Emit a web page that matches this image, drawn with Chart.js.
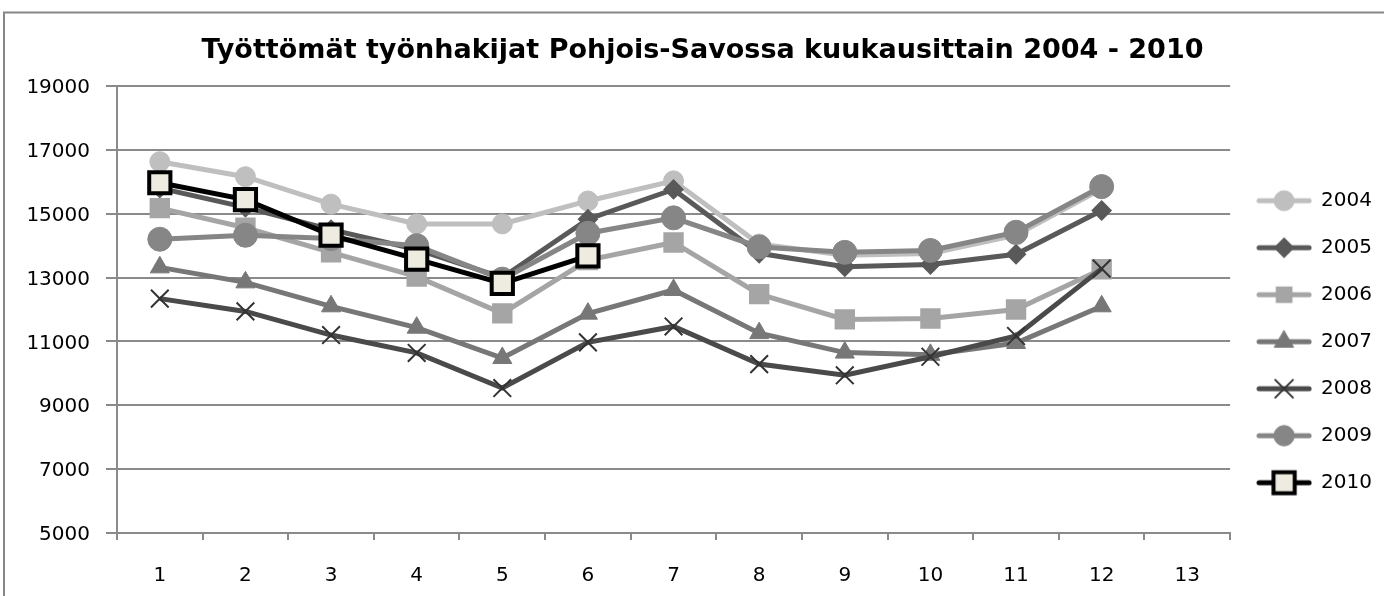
<!DOCTYPE html>
<html><head><meta charset="utf-8">
<script src="https://cdn.jsdelivr.net/npm/chart.js@4/dist/chart.umd.min.js"></script>
<style>html,body{margin:0;padding:0;background:#fff;overflow:hidden}</style>
</head><body>
<canvas id="c" width="1384" height="596"></canvas>
<script>
// ---- data ----
const months = ['1','2','3','4','5','6','7','8','9','10','11','12','13'];
const seriesNames = ['2004','2005','2006','2007','2008','2009','2010'];
const y2004 = [16630,16160,15300,14680,14680,15400,16030,14050,13700,13750,14330,15780];
const y2005 = [15800,15200,14500,13880,13000,14830,15760,13760,13340,13410,13730,15100];
const y2006 = [15175,14560,13790,13030,11880,13550,14100,12480,11690,11720,12000,13260];
const y2007 = [13320,12850,12100,11430,10480,11870,12610,11260,10650,10580,10950,12100];
const y2008 = [12340,11940,11200,10640,9540,10970,11470,10290,9940,10520,11170,13280];
const y2009 = [14200,14325,14220,14000,12950,14390,14870,13960,13790,13850,14420,15850];
const y2010 = [15970,15440,14330,13580,12820,13680];
const yTicks = [5000,7000,9000,11000,13000,15000,17000,19000];

// ---- styles ----
const styles = [
  {data:y2004, color:'#bfbfbf', fill:'#bfbfbf', ps:'circle',   r:10,  bw:1},
  {data:y2005, color:'#595959', fill:'#595959', ps:'rectRot',  r:9,   bw:2},
  {data:y2006, color:'#a5a5a5', fill:'#a5a5a5', ps:'rect',     r:13,  bw:2},
  {data:y2007, color:'#777777', fill:'#777777', ps:'triangle', r:11,  bw:1},
  {data:y2008, color:'#4a4a4a', fill:'#4a4a4a', ps:'crossRot', r:12.5,bw:2, pcol:'#333333'},
  {data:y2009, color:'#868686', fill:'#868686', ps:'circle',   r:12,  bw:1},
  {data:y2010, color:'#000000', fill:'#eeece1', ps:'rect',     r:15,  bw:4}
];

function drawMarker(ctx, s, x, y, scale){
  const r = s.r*scale;
  ctx.save();
  ctx.fillStyle = s.fill;
  ctx.strokeStyle = s.pcol || s.color;
  ctx.lineWidth = s.bw;
  ctx.beginPath();
  if (s.ps==='circle'){ ctx.arc(x,y,r,0,Math.PI*2); }
  else if (s.ps==='rect'){ const h=r*Math.SQRT1_2; ctx.rect(x-h,y-h,2*h,2*h); }
  else if (s.ps==='rectRot'){ ctx.moveTo(x-r,y); ctx.lineTo(x,y-r); ctx.lineTo(x+r,y); ctx.lineTo(x,y+r); ctx.closePath(); }
  else if (s.ps==='triangle'){ let a=0; ctx.moveTo(x+Math.sin(a)*r,y-Math.cos(a)*r); a+=2*Math.PI/3; ctx.lineTo(x+Math.sin(a)*r,y-Math.cos(a)*r); a+=2*Math.PI/3; ctx.lineTo(x+Math.sin(a)*r,y-Math.cos(a)*r); ctx.closePath(); }
  else if (s.ps==='crossRot'){ const o=r*Math.SQRT1_2; ctx.moveTo(x-o,y-o); ctx.lineTo(x+o,y+o); ctx.moveTo(x+o,y-o); ctx.lineTo(x-o,y+o); }
  if (s.ps!=='crossRot') ctx.fill();
  ctx.stroke();
  ctx.restore();
}
function legendImage(s){
  const cv = document.createElement('canvas');
  cv.width = 56; cv.height = 32;
  const ctx = cv.getContext('2d');
  ctx.strokeStyle = s.color; ctx.lineWidth = 5; ctx.lineCap='round';
  ctx.beginPath(); ctx.moveTo(3,16); ctx.lineTo(53,16); ctx.stroke();
  drawMarker(ctx, s, 28, 16, s.ps==='circle' && s.r>10 ? 0.85 : (s.ps==='rect'&&s.bw<4?0.8:1));
  return cv;
}

const datasets = styles.map((s,i)=>({
  label: seriesNames[i],
  data: s.data,
  borderColor: s.color,
  backgroundColor: s.fill,
  borderWidth: 5,
  pointStyle: s.ps,
  pointRadius: s.r,
  pointHoverRadius: s.r,
  pointBorderWidth: s.bw,
  pointBorderColor: s.pcol || s.color,
  pointBackgroundColor: s.fill,
  tension: 0,
  order: styles.length - i,
  _img: legendImage(s)
}));

const framePlugin = {
  id:'frame',
  afterDraw(chart){
    const ctx = chart.ctx;
    ctx.save();
    ctx.strokeStyle = '#878787'; ctx.lineWidth = 2;
    ctx.strokeRect(4, 12.5, 1420, 620);
    ctx.restore();
  }
};

const gridCol = '#8a8a8a';
new Chart(document.getElementById('c'), {
  type: 'line',
  data: { labels: months, datasets },
  plugins: [framePlugin],
  options: {
    responsive: false,
    devicePixelRatio: 1,
    animation: false,
    layout: { padding: { left: 23, right: 2, top: 0, bottom: 0 } },
    plugins: {
      tooltip: { enabled: false },
      title: {
        display: true,
        text: 'Työttömät työnhakijat Pohjois-Savossa kuukausittain 2004 - 2010',
        color: '#000',
        font: { family: 'DejaVu Sans', size: 27, weight: 'bold', lineHeight: 1.2 },
        padding: { top: 35.1, bottom: 18.5 }
      },
      legend: {
        position: 'right',
        align: 'start',
        fullSize: false,
        title: { display: true, text: ' ', font: { size: 20, lineHeight: 1.2 }, padding: { top: 53.7, bottom: 0 } },
        labels: {
          usePointStyle: true,
          pointStyleWidth: 54,
          boxHeight: 20,
          padding: 27,
          color: '#000',
          font: { family: 'DejaVu Sans', size: 20 },
          generateLabels(chart){
            return chart.data.datasets.map((d,i)=>({
              text: d.label, pointStyle: d._img, fillStyle: d.borderColor,
              strokeStyle: 'transparent', lineWidth: 0, hidden: false, datasetIndex: i, fontColor: '#000'
            }));
          }
        }
      }
    },
    scales: {
      x: {
        type: 'category',
        offset: true,
        grid: { display: true, offset: true, drawOnChartArea: false, drawTicks: true, tickLength: 7, color: gridCol, lineWidth: 2 },
        border: { display: true, color: gridCol, width: 2 },
        ticks: { color: '#000', font: { family: 'DejaVu Sans', size: 20 }, padding: 24, maxRotation: 0, autoSkip: false },
        afterFit(scale){ scale.height = 63; }
      },
      y: {
        min: 5000, max: 19000,
        afterBuildTicks(scale){ scale.ticks = yTicks.map(v=>({value:v})); },
        grid: { color: gridCol, lineWidth: 2, drawTicks: true, tickLength: 11 },
        border: { display: true, color: gridCol, width: 2 },
        ticks: { color: '#000', font: { family: 'DejaVu Sans', size: 20 }, padding: 16, labelOffset: 2,
                 callback: (v)=>String(v) },
        afterFit(scale){ scale.width = 94; }
      }
    }
  }
});
</script>
</body></html>
